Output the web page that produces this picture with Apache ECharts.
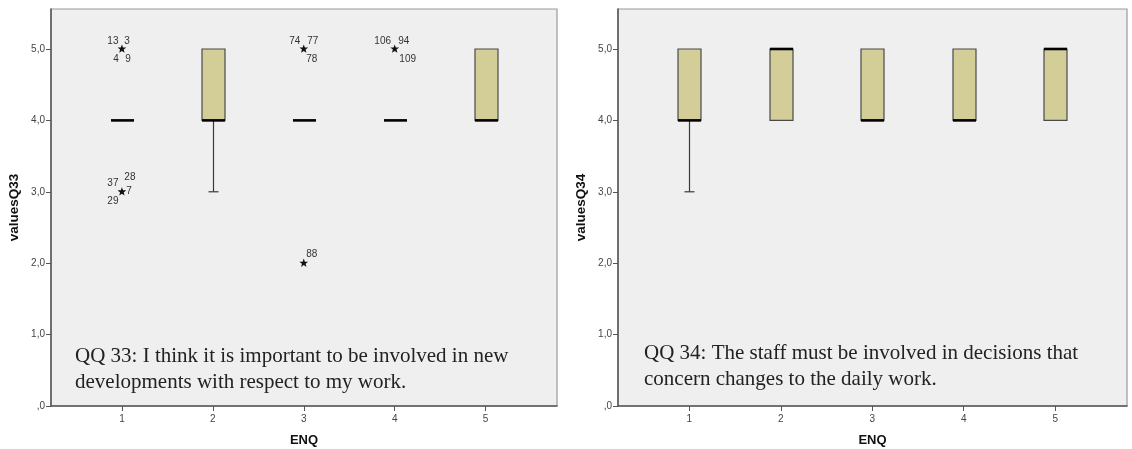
<!DOCTYPE html>
<html>
<head>
<meta charset="utf-8">
<script src="https://cdn.jsdelivr.net/npm/echarts@6/dist/echarts.min.js"></script>
<style>
html,body{margin:0;padding:0;background:#fff;}
#chart{width:1132px;height:449px;}
</style>
</head>
<body>
<div id="chart"></div>
<script>
// ---------- data ----------
const categories = [1, 2, 3, 4, 5];
const xTickLabels = ['1', '2', '3', '4', '5'];
const yTickValues = [0, 1, 2, 3, 4, 5];
const yTickLabels = [',0', '1,0', '2,0', '3,0', '4,0', '5,0'];

// Q33 box statistics per ENQ category
const q33Low    = [4, 3, 4, 4, 4];
const q33Q1     = [4, 4, 4, 4, 4];
const q33Median = [4, 4, 4, 4, 4];
const q33Q3     = [4, 5, 4, 4, 5];
const q33High   = [4, 5, 4, 4, 5];

// Q33 extreme values (stars) and their case labels
const q33OutlierX = [1, 1, 3, 3, 4];
const q33OutlierY = [5, 3, 5, 2, 5];
const q33OutlierCases = [
  ['13', '3', '4', '9'],
  ['37', '28', '7', '29'],
  ['74', '77', '78'],
  ['88'],
  ['106', '94', '109']
];

// Q34 box statistics per ENQ category
const q34Low    = [3, 4, 4, 4, 4];
const q34Q1     = [4, 4, 4, 4, 4];
const q34Median = [4, 5, 4, 4, 5];
const q34Q3     = [5, 5, 5, 5, 5];
const q34High   = [5, 5, 5, 5, 5];

const q33Note = ['QQ 33: I think it is important to be involved in new', 'developments with respect to my work.'];
const q34Note = ['QQ 34: The staff must be involved in decisions that', 'concern changes to the daily work.'];

// ---------- styling / layout (not data) ----------
// label placement around a star, keyed by [outlier group index][label index]
const labelOffsets = [
  [[-9, -8], [5, -8], [-6, 10], [6, 10]],
  [[-9, -9], [8, -15], [7, -1], [-9, 9]],
  [[-9, -8], [9, -8], [8, 10]],
  [[8, -9]],
  [[-12, -8], [9, -8], [13, 10]]
];
const BOX_W = 23;
const CAP_W = 10;
const BOX_FILL = '#D3CE97';

function boxRows(lo, q1, med, q3, hi) {
  return categories.map((c, i) => [c, lo[i], q1[i], med[i], q3[i], hi[i]]);
}

function renderBox(params, api) {
  const x = api.value(0);
  const lo = api.value(1), q1 = api.value(2), med = api.value(3), q3 = api.value(4), hi = api.value(5);
  const pLo = api.coord([x, lo]), pQ1 = api.coord([x, q1]), pMed = api.coord([x, med]);
  const pQ3 = api.coord([x, q3]), pHi = api.coord([x, hi]);
  const cx = Math.round(pMed[0]) + 0.5;
  const children = [];
  const wStyle = { stroke: '#3a3a3a', lineWidth: 1.2 };
  if (lo < q1) {
    children.push({ type: 'line', shape: { x1: cx, y1: pQ1[1], x2: cx, y2: pLo[1] }, style: wStyle });
    children.push({ type: 'line', shape: { x1: cx - CAP_W / 2, y1: pLo[1], x2: cx + CAP_W / 2, y2: pLo[1] }, style: wStyle });
  }
  if (hi > q3) {
    children.push({ type: 'line', shape: { x1: cx, y1: pQ3[1], x2: cx, y2: pHi[1] }, style: wStyle });
    children.push({ type: 'line', shape: { x1: cx - CAP_W / 2, y1: pHi[1], x2: cx + CAP_W / 2, y2: pHi[1] }, style: wStyle });
  }
  if (q3 > q1) {
    children.push({
      type: 'rect',
      shape: { x: cx - BOX_W / 2, y: pQ3[1], width: BOX_W, height: pQ1[1] - pQ3[1] },
      style: { fill: BOX_FILL, stroke: '#4a4a4a', lineWidth: 1.2 }
    });
  }
  children.push({
    type: 'line',
    shape: { x1: cx - BOX_W / 2, y1: pMed[1], x2: cx + BOX_W / 2, y2: pMed[1] },
    style: { stroke: '#000', lineWidth: 2.6 }
  });
  return { type: 'group', children: children };
}

function starPoints(cx, cy, R, r) {
  const pts = [];
  for (let k = 0; k < 10; k++) {
    const ang = -Math.PI / 2 + k * Math.PI / 5;
    const rad = k % 2 === 0 ? R : r;
    pts.push([cx + rad * Math.cos(ang), cy + rad * Math.sin(ang)]);
  }
  return pts;
}

function renderOutlier(params, api) {
  const i = params.dataIndex;
  const p = api.coord([api.value(0), api.value(1)]);
  const children = [{
    type: 'polygon',
    shape: { points: starPoints(p[0], p[1], 4.6, 1.9) },
    style: { fill: '#111' }
  }];
  q33OutlierCases[i].forEach((lab, j) => {
    const off = labelOffsets[i][j];
    children.push({
      type: 'text',
      style: {
        x: p[0] + off[0], y: p[1] + off[1], text: lab,
        font: '10px "Liberation Sans", Arial, sans-serif',
        fill: '#333', align: 'center', verticalAlign: 'middle'
      }
    });
  });
  return { type: 'group', children: children };
}

const X_MIN = 0.22, X_MAX = 5.785, Y_MAX = 5.56;

function xAxisFor(gi) {
  return {
    type: 'value', gridIndex: gi, min: X_MIN, max: X_MAX,
    axisLine: { show: true, onZero: false, lineStyle: { color: '#555', width: 1.5 } },
    axisTick: { show: true, customValues: categories, length: 5, lineStyle: { color: '#555' } },
    axisLabel: {
      customValues: categories, margin: 8, color: '#444', fontSize: 10,
      fontFamily: '"Liberation Sans", Arial, sans-serif',
      formatter: v => xTickLabels[categories.indexOf(v)]
    },
    splitLine: { show: false },
    name: 'ENQ', nameLocation: 'middle', nameGap: 28,
    nameTextStyle: { fontWeight: 'bold', fontSize: 13, color: '#111', fontFamily: '"Liberation Sans", Arial, sans-serif' }
  };
}
function yAxisFor(gi, name) {
  return {
    type: 'value', gridIndex: gi, min: 0, max: Y_MAX,
    axisLine: { show: true, onZero: false, lineStyle: { color: '#555', width: 1.5 } },
    axisTick: { show: true, customValues: yTickValues, length: 5, lineStyle: { color: '#555' } },
    axisLabel: {
      customValues: yTickValues, margin: 6, color: '#444', fontSize: 10,
      fontFamily: '"Liberation Sans", Arial, sans-serif',
      formatter: v => yTickLabels[yTickValues.indexOf(v)]
    },
    splitLine: { show: false },
    name: name, nameLocation: 'middle', nameGap: 30, nameRotate: 90,
    nameTextStyle: { fontWeight: 'bold', fontSize: 13.5, color: '#111', fontFamily: '"Liberation Sans", Arial, sans-serif' }
  };
}

function noteText(lines, x, y1, y2) {
  return lines.map((t, k) => ({
    type: 'text', z: 10,
    style: {
      x: x, y: k === 0 ? y1 : y2, text: t,
      font: '21px "Liberation Serif", "Times New Roman", serif',
      fill: '#222', verticalAlign: 'middle', align: 'left'
    }
  }));
}

const chart = echarts.init(document.getElementById('chart'), null, { renderer: 'canvas' });
chart.setOption({
  animation: false,
  backgroundColor: '#fff',
  grid: [
    { left: 51, top: 9, width: 506, height: 397, show: true, containLabel: false, outerBoundsMode: 'none',
      backgroundColor: '#efefef', borderColor: '#9a9a9a', borderWidth: 1.2 },
    { left: 618, top: 9, width: 509, height: 397, show: true, containLabel: false, outerBoundsMode: 'none',
      backgroundColor: '#efefef', borderColor: '#9a9a9a', borderWidth: 1.2 }
  ],
  xAxis: [xAxisFor(0), xAxisFor(1)],
  yAxis: [yAxisFor(0, 'valuesQ33'), yAxisFor(1, 'valuesQ34')],
  series: [
    {
      type: 'custom', xAxisIndex: 0, yAxisIndex: 0,
      data: boxRows(q33Low, q33Q1, q33Median, q33Q3, q33High),
      encode: { x: 0, y: [1, 2, 3, 4, 5] },
      renderItem: renderBox, z: 3
    },
    {
      type: 'custom', xAxisIndex: 0, yAxisIndex: 0,
      data: q33OutlierX.map((x, i) => [x, q33OutlierY[i]]),
      encode: { x: 0, y: 1 },
      renderItem: renderOutlier, z: 4
    },
    {
      type: 'custom', xAxisIndex: 1, yAxisIndex: 1,
      data: boxRows(q34Low, q34Q1, q34Median, q34Q3, q34High),
      encode: { x: 0, y: [1, 2, 3, 4, 5] },
      renderItem: renderBox, z: 3
    }
  ],
  graphic: [].concat(noteText(q33Note, 75, 356, 382), noteText(q34Note, 644, 353, 379))
});
</script>
</body>
</html>
